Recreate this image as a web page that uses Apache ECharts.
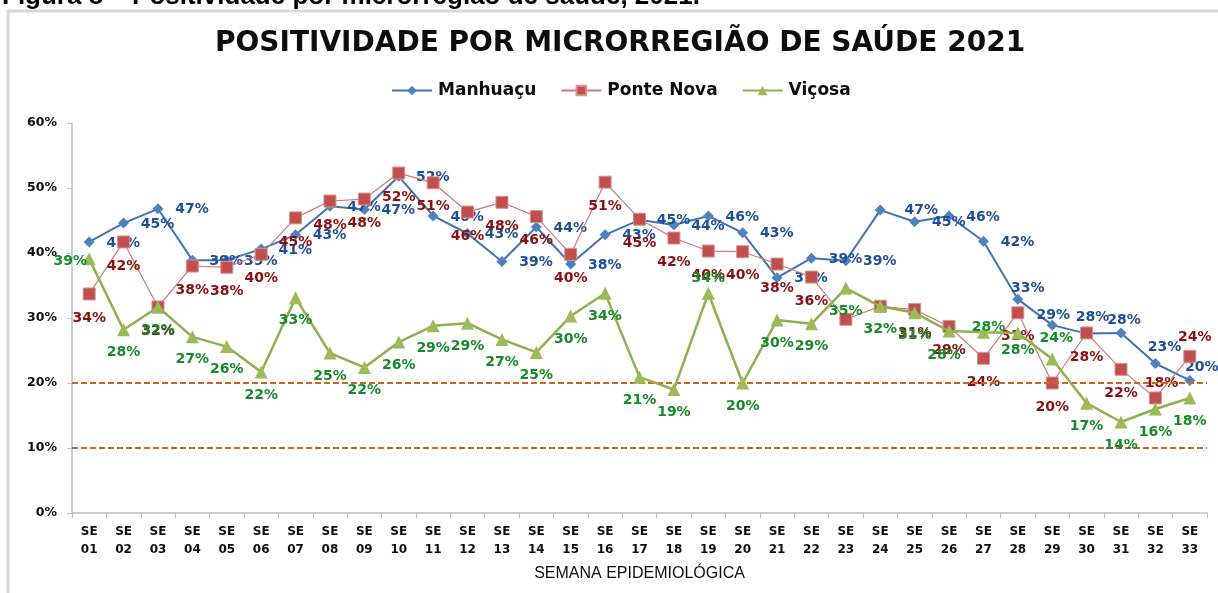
<!DOCTYPE html>
<html>
<head>
<meta charset="utf-8">
<script src="https://cdn.jsdelivr.net/npm/echarts@6/dist/echarts.min.js"></script>
<style>html,body{margin:0;padding:0;background:#fff;}#c{width:1218px;height:593px;}</style>
</head>
<body>
<div id="c"></div>
<script>
// ---- data ----
const categories = ['SE 01','SE 02','SE 03','SE 04','SE 05','SE 06','SE 07','SE 08','SE 09','SE 10','SE 11','SE 12','SE 13','SE 14','SE 15','SE 16','SE 17','SE 18','SE 19','SE 20','SE 21','SE 22','SE 23','SE 24','SE 25','SE 26','SE 27','SE 28','SE 29','SE 30','SE 31','SE 32','SE 33'];
const manhuacu = [0.417,0.446,0.468,0.389,0.389,0.406,0.428,0.472,0.467,0.518,0.457,0.430,0.387,0.440,0.383,0.428,0.451,0.443,0.457,0.431,0.362,0.392,0.388,0.466,0.448,0.457,0.418,0.329,0.289,0.276,0.277,0.230,0.204];
const ponteNova = [0.337,0.417,0.317,0.380,0.378,0.398,0.454,0.480,0.483,0.523,0.508,0.463,0.478,0.456,0.398,0.509,0.452,0.423,0.403,0.402,0.383,0.363,0.298,0.318,0.313,0.287,0.238,0.308,0.200,0.277,0.221,0.177,0.241];
const vicosa = [0.391,0.282,0.317,0.271,0.256,0.217,0.331,0.246,0.224,0.263,0.288,0.292,0.267,0.247,0.303,0.338,0.209,0.190,0.338,0.200,0.297,0.291,0.346,0.318,0.308,0.280,0.278,0.277,0.237,0.169,0.140,0.160,0.177];
const seriesNames = ['Manhuaçu','Ponte Nova','Viçosa'];
const yTicks = [0, 0.1, 0.2, 0.3, 0.4, 0.5, 0.6];
const referenceLines = [0.2, 0.1];

// ---- label placement (style, not data) ----
const labelOffsets = {
  0: {def: [34, 1], over: {23: [41, 0], 27: [10, -11], 28: [1, -10], 29: [6, -16], 30: [3, -13], 31: [9, -16], 32: [12, -13]}, hide: []},
  1: {def: [0, 24], over: {31: [6, -15], 32: [5, -19]}, hide: [22, 23]},
  2: {def: [0, 23], over: {0: [-19, 3], 18: [0, -15], 25: [-5, 24], 26: [5, -5], 27: [0, 17], 28: [4, -21]}, hide: []}
};
const pct = v => Math.round(v * 100) + '%';

function buildData(vals, si) {
  const cfg = labelOffsets[si];
  return vals.map((v, i) => {
    const item = {value: v};
    if (cfg.hide.indexOf(i) >= 0) item.label = {show: false};
    else if (cfg.over[i]) item.label = {offset: cfg.over[i]};
    return item;
  });
}

const labelFont = {fontFamily: 'DejaVu Sans', fontWeight: 'bold', fontSize: 14};
const chart = echarts.init(document.getElementById('c'), null, {renderer: 'canvas'});
chart.setOption({
  backgroundColor: '#ffffff',
  animation: false,
  title: {
    text: 'POSITIVIDADE POR MICRORREGIÃO DE SAÚDE 2021',
    left: 210, top: 25,
    textStyle: {fontFamily: 'DejaVu Sans', fontWeight: 'bold', fontSize: 28, color: '#0d0d0d'}
  },
  legend: {
    data: seriesNames,
    top: 77, left: 386,
    itemWidth: 40, itemHeight: 12, itemGap: 24,
    textStyle: {fontFamily: 'DejaVu Sans', fontWeight: 'bold', fontSize: 17, color: '#0d0d0d', padding: [0, 0, 0, 1]}
  },
  graphic: [
    {type: 'rect', shape: {x: 8, y: 11, width: 1400, height: 800}, style: {fill: 'none', stroke: '#D9D9D9', lineWidth: 3}, silent: true},
    {type: 'text', x: 2, y: 10, style: {text: 'Figura 8 – Positividade por microrregião de saúde, 2021.', font: 'bold 26px "Liberation Sans", sans-serif', fill: '#000', verticalAlign: 'bottom', align: 'left'}, silent: true}
  ],
  grid: {left: 72, right: 11, top: 123, bottom: 80},
  xAxis: {
    type: 'category',
    data: categories,
    name: 'SEMANA EPIDEMIOLÓGICA',
    nameLocation: 'middle', nameGap: 53,
    nameTextStyle: {fontFamily: 'Liberation Sans', fontSize: 16, color: '#0d0d0d'},
    axisLine: {lineStyle: {color: '#BFBFBF', width: 1.5}},
    axisTick: {show: true, length: 5, lineStyle: {color: '#BFBFBF'}},
    axisLabel: {
      interval: 0, margin: 10, lineHeight: 18,
      fontFamily: 'DejaVu Sans', fontWeight: 'bold', fontSize: 12, color: '#0d0d0d',
      formatter: v => v.replace(' ', '\n')
    }
  },
  yAxis: {
    type: 'value', min: yTicks[0], max: yTicks[yTicks.length - 1], interval: 0.1,
    splitLine: {show: false},
    axisLine: {show: true, lineStyle: {color: '#BFBFBF', width: 1.5}},
    axisTick: {show: true, length: 5, lineStyle: {color: '#BFBFBF'}},
    axisLabel: {margin: 15, fontFamily: 'DejaVu Sans', fontWeight: 'bold', fontSize: 12.5, color: '#0d0d0d', formatter: v => pct(v)}
  },
  series: [
    {
      name: seriesNames[0], type: 'line', data: buildData(manhuacu, 0),
      symbol: 'diamond', symbolSize: 11, z: 3,
      lineStyle: {color: '#3F73B4', width: 2},
      itemStyle: {color: '#4F81BD'},
      label: Object.assign({show: true, position: 'inside', offset: labelOffsets[0].def, color: '#1F4E99', formatter: p => pct(p.value)}, labelFont),
      markLine: {
        silent: true, symbol: 'none',
        label: {show: false},
        lineStyle: {color: '#D2641C', type: [6, 3], width: 2},
        data: referenceLines.map(v => ({yAxis: v}))
      }
    },
    {
      name: seriesNames[1], type: 'line', data: buildData(ponteNova, 1),
      symbol: 'rect', symbolSize: 12, z: 4,
      lineStyle: {color: '#CD7A78', width: 1.2},
      itemStyle: {color: '#C0504D', borderColor: '#D9918F', borderWidth: 1},
      label: Object.assign({show: true, position: 'inside', offset: labelOffsets[1].def, color: '#8B0F0F', formatter: p => pct(p.value)}, labelFont)
    },
    {
      name: seriesNames[2], type: 'line', data: buildData(vicosa, 2),
      symbol: 'triangle', symbolSize: 13, z: 5,
      lineStyle: {color: '#8FB04E', width: 2.5},
      itemStyle: {color: '#9BBB59'},
      label: Object.assign({show: true, position: 'inside', offset: labelOffsets[2].def, color: '#168A2A', formatter: p => pct(p.value)}, labelFont)
    }
  ]
});
</script>
</body>
</html>
